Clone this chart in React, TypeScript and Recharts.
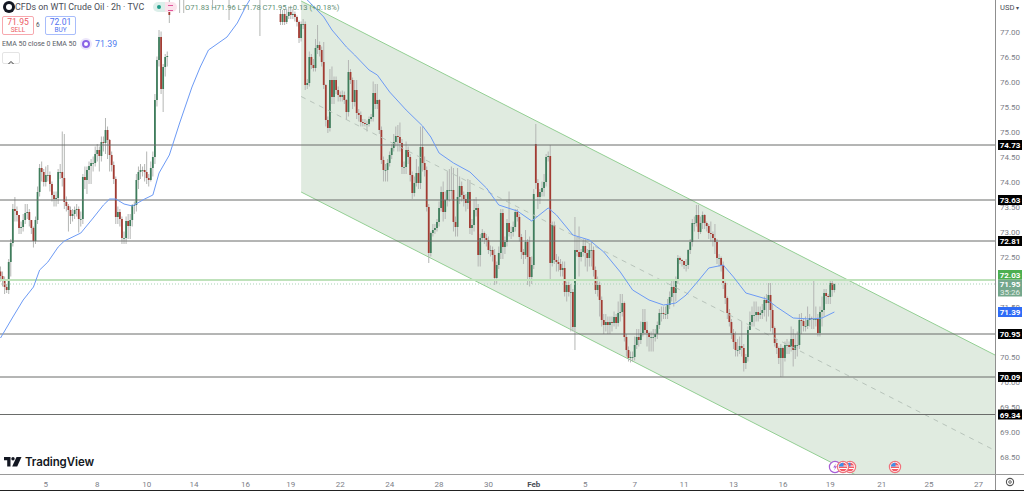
import { ComposedChart, Area, Bar, Line, XAxis, YAxis, ReferenceLine } from 'recharts'

// first run of 2h bars, slots 0-81
const leftOpen = [
  72.2, 72.11, 72.01, 71.89, 71.83, 72.39, 72.77, 73.45, 73.41, 73.33,
  73.07, 73.09, 73.23, 73.37, 73.39, 73.23, 73.07, 72.81, 73.23, 73.79,
  74.27, 74.19, 73.99, 74.13, 74.13, 73.95, 73.73, 73.65, 73.67, 74.19,
  74.19, 74.07, 73.59, 73.51, 73.43, 73.31, 73.35, 73.43, 73.45, 73.25,
  73.25, 74.09, 74.03, 74.23, 74.31, 74.37, 74.37, 74.55, 74.63, 74.51,
  74.79, 74.77, 75.03, 74.83, 74.53, 74.33, 74.05, 73.29, 73.39, 73.25,
  72.87, 72.87, 73.21, 73.11, 73.23, 73.53, 73.53, 74.03, 74.19, 74.23,
  74.23, 74.19, 74.07, 74.03, 74.27, 74.49, 75.63, 76.43, 76.89, 75.85, 76.29, 76.49,
]
const leftHigh = [
  72.3, 72.2, 72.1, 71.95, 72.45, 72.85, 73.55, 73.69, 73.5, 73.15,
  73.2, 73.35, 73.55, 73.55, 73.45, 73.2, 73.1, 73.3, 73.9, 74.35,
  74.4, 74.25, 74.3, 74.33, 74.2, 74.0, 73.8, 73.8, 74.25, 74.35,
  75.0, 74.95, 73.7, 73.55, 73.5, 73.45, 73.5, 73.55, 73.5, 73.4,
  74.15, 74.3, 74.3, 74.4, 74.45, 74.5, 74.7, 74.75, 74.7, 74.9,
  74.9, 75.27, 75.1, 74.85, 74.6, 74.4, 74.1, 73.5, 73.45, 73.3,
  73.0, 73.3, 73.35, 73.35, 73.55, 73.6, 74.15, 74.3, 74.35, 74.3,
  74.35, 74.6, 74.15, 74.4, 74.6, 75.75, 76.5, 77.03, 77.0, 76.35, 76.55, 76.6,
]
const leftLow = [
  72.0, 71.9, 71.75, 71.77, 71.75, 72.1, 72.7, 73.2, 73.2, 72.95,
  72.95, 73.0, 73.15, 73.25, 73.1, 72.95, 72.68, 72.75, 73.15, 73.7,
  74.0, 73.9, 73.9, 74.0, 73.8, 73.6, 73.5, 73.5, 73.55, 74.05,
  73.9, 73.45, 73.4, 73.0, 73.15, 73.2, 73.25, 73.3, 72.98, 73.1,
  73.15, 73.85, 73.75, 73.95, 73.95, 74.2, 74.3, 74.4, 74.2, 74.4,
  74.6, 74.55, 74.45, 74.2, 74.2, 73.95, 73.15, 73.15, 73.1, 72.75,
  72.75, 72.75, 72.85, 72.85, 73.1, 73.35, 73.4, 73.85, 74.05, 74.1,
  74.0, 73.95, 73.9, 74.0, 74.1, 74.35, 75.5, 76.3, 75.75, 75.39, 76.1, 76.3,
]
const leftClose = [
  72.11, 72.01, 71.89, 71.83, 72.39, 72.77, 73.45, 73.41, 73.33, 73.07,
  73.09, 73.23, 73.37, 73.39, 73.23, 73.07, 72.81, 73.23, 73.79, 74.27,
  74.19, 73.99, 74.13, 74.13, 73.95, 73.73, 73.65, 73.67, 74.19, 74.19,
  74.07, 73.59, 73.51, 73.43, 73.31, 73.35, 73.43, 73.45, 73.25, 73.25,
  74.09, 74.03, 74.23, 74.31, 74.37, 74.37, 74.55, 74.63, 74.51, 74.79,
  74.77, 75.03, 74.83, 74.53, 74.33, 74.05, 73.29, 73.39, 73.25, 72.87,
  72.87, 73.21, 73.11, 73.23, 73.53, 73.53, 74.03, 74.19, 74.23, 74.23,
  74.19, 74.07, 74.03, 74.27, 74.49, 75.63, 76.43, 76.89, 75.85, 76.29, 76.49, 76.51,
]

// bars mostly above the visible range, only their lower wicks show
const topSlots = [82, 87, 89, 103, 111, 126]
const topOpen = [77.53, 78.0, 78.0, 78.0, 78.0, 78.0]
const topHigh = [78.2, 78.2, 78.2, 78.2, 78.2, 78.2]
const topLow = [77.17, 77.37, 77.37, 77.53, 77.23, 76.91]
const topClose = [77.33, 77.8, 77.8, 77.8, 77.8, 77.8]

// second run, slots 136-405
const rightStart = 136
const rightOpen = [
  77.35, 77.19, 77.35, 77.19, 77.31, 77.39, 77.33, 77.35, 77.29, 77.19,
  76.87, 77.15, 77.15, 75.93, 75.97, 76.49, 76.33, 76.27, 76.67, 76.73,
  76.63, 76.39, 75.93, 75.23, 75.07, 76.03, 75.69, 76.03, 75.83, 75.73,
  75.69, 75.73, 75.63, 75.39, 76.19, 76.03, 75.59, 75.83, 75.37, 75.33,
  75.19, 75.17, 75.15, 75.15, 75.25, 75.29, 75.77, 75.55, 75.63, 75.03,
  74.43, 74.23, 74.23, 74.37, 74.53, 74.67, 74.79, 74.91, 74.89, 74.77,
  74.29, 74.29, 74.63, 74.49, 74.13, 73.77, 73.97, 74.17, 73.97, 74.69,
  74.37, 74.23, 73.49, 72.57, 72.97, 73.03, 73.07, 73.19, 73.47, 73.79,
  73.39, 73.63, 73.83, 73.83, 73.83, 73.19, 73.09, 73.69, 73.91, 73.73,
  73.65, 73.57, 73.79, 73.07, 73.13, 73.43, 73.47, 72.53, 72.87, 72.97,
  72.87, 72.83, 72.63, 72.63, 72.53, 72.07, 72.33, 72.57, 73.37, 72.69,
  72.79, 73.17, 72.99, 72.99, 73.09, 73.39, 73.29, 72.89, 72.59, 72.53,
  72.79, 72.49, 72.09, 72.33, 74.75, 73.97, 73.69, 73.79, 73.87, 73.99,
  74.49, 74.51, 72.37, 73.13, 72.43, 72.39, 72.35, 72.23, 72.27, 71.79,
  71.93, 71.79, 71.79, 71.09, 72.63, 72.59, 72.49, 72.59, 72.71, 72.57,
  72.47, 72.63, 72.63, 72.23, 71.83, 71.93, 71.63, 71.23, 71.13, 71.19,
  71.13, 71.19, 71.17, 71.29, 71.17, 71.37, 71.39, 71.57, 70.89, 70.63,
  70.47, 70.49, 70.49, 70.73, 70.89, 70.83, 70.97, 71.19, 71.03, 70.97,
  70.89, 70.89, 70.89, 70.95, 71.13, 71.37, 71.37, 71.35, 71.35, 71.53,
  71.69, 71.89, 71.77, 72.05, 72.47, 72.43, 72.41, 72.33, 72.33, 72.63,
  72.79, 73.17, 73.17, 73.33, 72.99, 73.17, 73.33, 73.17, 73.11, 72.97,
  72.95, 72.87, 72.79, 72.47, 72.47, 72.33, 71.97, 71.67, 71.37, 71.19,
  70.97, 70.79, 70.63, 70.63, 70.71, 70.67, 70.37, 70.49, 71.03, 71.19,
  71.33, 71.33, 71.39, 71.33, 71.37, 71.43, 71.63, 71.57, 71.73, 71.43,
  71.07, 70.77, 70.67, 70.47, 70.67, 70.47, 70.73, 70.73, 70.69, 70.85,
  70.63, 70.73, 70.73, 71.23, 71.21, 71.11, 71.11, 71.23, 71.27, 71.25,
  71.25, 71.25, 70.97, 71.39, 71.43, 71.77, 71.71, 71.69, 71.97, 71.83,
]
const rightHigh = [
  77.45, 77.43, 77.45, 77.45, 77.5, 77.45, 77.45, 77.4, 77.32, 77.22,
  77.2, 77.25, 77.2, 76.05, 76.6, 76.55, 76.45, 76.85, 77.13, 76.8,
  76.7, 76.79, 75.95, 75.3, 76.25, 76.3, 76.1, 76.1, 75.9, 75.8,
  75.82, 75.8, 75.65, 76.43, 76.25, 76.08, 76.03, 76.03, 75.45, 75.4,
  75.25, 75.25, 75.22, 75.3, 75.35, 76.0, 75.95, 75.95, 75.65, 75.1,
  74.5, 74.35, 74.45, 74.6, 74.75, 74.95, 75.1, 75.13, 75.18, 74.85,
  74.4, 74.8, 74.7, 74.55, 74.2, 74.1, 74.45, 74.3, 75.1, 75.1,
  74.5, 74.3, 73.55, 73.0, 73.15, 73.15, 73.25, 73.6, 73.9, 74.0,
  73.8, 74.2, 74.25, 74.3, 74.27, 73.3, 74.27, 74.1, 74.0, 73.8,
  73.75, 74.05, 74.03, 73.25, 73.65, 73.69, 73.55, 72.95, 73.05, 73.0,
  72.95, 72.9, 72.72, 72.7, 72.65, 72.4, 72.7, 73.45, 73.45, 72.9,
  73.25, 73.8, 73.1, 73.2, 73.45, 73.45, 73.35, 72.95, 72.65, 73.03,
  72.85, 72.9, 72.5, 73.85, 75.15, 74.05, 73.85, 74.0, 74.15, 74.55,
  74.6, 74.73, 73.2, 73.2, 72.55, 72.5, 72.45, 72.4, 72.4, 72.0,
  72.0, 71.95, 71.85, 73.29, 72.9, 73.1, 72.65, 72.85, 72.85, 72.65,
  72.75, 72.8, 72.7, 72.3, 72.1, 72.0, 71.7, 71.35, 71.35, 71.3,
  71.3, 71.3, 71.4, 71.35, 71.6, 71.75, 71.75, 71.6, 70.95, 70.7,
  70.6, 70.6, 70.9, 71.05, 71.05, 71.2, 71.45, 71.45, 71.2, 71.0,
  71.0, 71.05, 71.05, 71.2, 71.45, 71.5, 71.5, 71.5, 71.65, 71.8,
  72.05, 72.05, 72.1, 72.53, 72.5, 72.45, 72.4, 72.45, 72.65, 72.85,
  73.25, 73.3, 73.53, 73.53, 73.3, 73.4, 73.35, 73.2, 73.15, 73.2,
  73.0, 73.15, 72.85, 72.55, 72.5, 72.4, 72.0, 71.7, 71.45, 71.25,
  71.05, 71.0, 70.85, 70.9, 71.2, 70.75, 70.55, 71.1, 71.4, 71.5,
  71.6, 71.6, 71.5, 71.5, 71.55, 71.7, 71.75, 71.97, 71.97, 71.55,
  71.1, 70.85, 70.7, 70.75, 70.7, 70.8, 70.85, 70.8, 71.1, 71.05,
  70.95, 71.0, 71.35, 71.37, 71.25, 71.3, 71.5, 71.35, 71.3, 72.01,
  71.5, 71.35, 71.5, 71.7, 71.85, 71.85, 71.75, 72.03, 72.05, 71.96,
]
const rightLow = [
  77.13, 77.13, 77.13, 77.15, 77.25, 77.25, 77.25, 77.2, 77.1, 76.77,
  76.8, 77.05, 75.83, 75.85, 75.9, 76.25, 76.2, 76.2, 76.55, 76.5,
  76.3, 75.85, 75.1, 74.97, 75.0, 75.55, 75.55, 75.75, 75.6, 75.6,
  75.6, 75.55, 75.23, 75.3, 75.95, 75.45, 75.5, 75.25, 75.2, 75.1,
  75.1, 75.1, 75.0, 75.1, 75.2, 75.2, 75.45, 75.45, 74.95, 74.35,
  74.0, 74.0, 74.0, 74.3, 74.45, 74.6, 74.7, 74.6, 74.6, 74.15,
  74.15, 74.15, 74.35, 74.0, 73.65, 73.7, 73.9, 73.85, 73.85, 74.2,
  74.1, 73.4, 72.37, 72.5, 72.9, 72.95, 73.0, 73.1, 73.4, 73.2,
  73.25, 73.5, 73.6, 73.65, 73.0, 72.9, 72.9, 73.55, 73.6, 73.5,
  73.4, 73.45, 72.95, 72.93, 73.0, 73.3, 72.3, 72.3, 72.8, 72.75,
  72.7, 72.55, 72.5, 72.4, 71.93, 71.95, 72.25, 72.45, 72.45, 72.55,
  72.7, 72.9, 72.85, 72.9, 73.0, 73.2, 72.8, 72.45, 72.35, 72.45,
  71.93, 71.9, 71.95, 72.25, 73.85, 73.45, 73.55, 73.7, 73.7, 73.9,
  74.4, 72.03, 72.3, 72.35, 72.2, 72.2, 72.1, 72.1, 71.7, 71.6,
  71.7, 71.0, 71.0, 70.63, 72.5, 72.1, 72.4, 72.5, 72.3, 72.2,
  72.3, 72.3, 72.1, 71.75, 71.7, 71.3, 71.1, 70.95, 71.0, 70.95,
  70.95, 71.0, 71.1, 71.05, 71.1, 71.2, 71.3, 70.8, 70.5, 70.4,
  70.38, 70.4, 70.42, 70.65, 70.7, 70.75, 70.9, 70.95, 70.7, 70.6,
  70.6, 70.6, 70.8, 70.85, 71.05, 71.2, 71.25, 71.25, 71.25, 71.45,
  71.6, 71.5, 71.6, 71.95, 72.35, 72.3, 72.25, 72.2, 72.25, 72.55,
  72.7, 73.0, 73.1, 72.85, 72.95, 73.05, 73.05, 73.0, 72.85, 72.8,
  72.7, 72.55, 72.35, 72.3, 72.2, 71.85, 71.55, 71.25, 71.1, 70.85,
  70.65, 70.5, 70.5, 70.55, 70.5, 70.2, 70.25, 70.4, 71.05, 71.1,
  71.1, 71.2, 71.2, 71.25, 71.25, 71.3, 71.2, 71.3, 71.0, 70.95,
  70.7, 70.55, 70.35, 70.09, 70.1, 70.4, 70.55, 70.55, 70.6, 70.3,
  70.45, 70.5, 70.65, 70.95, 71.0, 71.0, 71.05, 71.1, 71.05, 71.05,
  71.1, 70.9, 70.9, 71.1, 71.3, 71.55, 71.55, 71.55, 71.7, 71.78,
]
const rightClose = [
  77.19, 77.35, 77.19, 77.31, 77.39, 77.33, 77.35, 77.29, 77.19, 76.87,
  77.15, 77.15, 75.93, 75.97, 76.49, 76.33, 76.27, 76.67, 76.73, 76.63,
  76.39, 75.93, 75.23, 75.07, 76.03, 75.69, 76.03, 75.83, 75.73, 75.69,
  75.73, 75.63, 75.39, 76.19, 76.03, 75.59, 75.83, 75.37, 75.33, 75.19,
  75.17, 75.15, 75.15, 75.25, 75.29, 75.77, 75.55, 75.63, 75.03, 74.43,
  74.23, 74.23, 74.37, 74.53, 74.67, 74.79, 74.91, 74.89, 74.77, 74.29,
  74.29, 74.63, 74.49, 74.13, 73.77, 73.97, 74.17, 73.97, 74.69, 74.37,
  74.23, 73.49, 72.57, 72.97, 73.03, 73.07, 73.19, 73.47, 73.79, 73.39,
  73.63, 73.83, 73.83, 73.83, 73.19, 73.09, 73.69, 73.91, 73.73, 73.65,
  73.57, 73.79, 73.07, 73.13, 73.43, 73.47, 72.53, 72.87, 72.97, 72.87,
  72.83, 72.63, 72.63, 72.53, 72.07, 72.33, 72.57, 73.37, 72.69, 72.79,
  73.17, 72.99, 72.99, 73.09, 73.39, 73.29, 72.89, 72.59, 72.53, 72.79,
  72.49, 72.09, 72.33, 73.75, 73.97, 73.69, 73.79, 73.87, 73.99, 74.49,
  74.51, 72.37, 73.13, 72.43, 72.39, 72.35, 72.23, 72.27, 71.79, 71.93,
  71.79, 71.79, 71.09, 72.63, 72.59, 72.49, 72.59, 72.71, 72.57, 72.47,
  72.63, 72.63, 72.23, 71.83, 71.93, 71.63, 71.23, 71.13, 71.19, 71.13,
  71.19, 71.17, 71.29, 71.17, 71.37, 71.39, 71.57, 70.89, 70.63, 70.47,
  70.49, 70.49, 70.73, 70.89, 70.83, 70.97, 71.19, 71.03, 70.97, 70.89,
  70.89, 70.89, 70.95, 71.13, 71.37, 71.37, 71.35, 71.35, 71.53, 71.69,
  71.89, 71.77, 72.05, 72.47, 72.43, 72.41, 72.33, 72.33, 72.63, 72.79,
  73.17, 73.17, 73.33, 72.99, 73.17, 73.33, 73.17, 73.11, 72.97, 72.95,
  72.87, 72.79, 72.47, 72.47, 72.33, 71.97, 71.67, 71.37, 71.19, 70.97,
  70.79, 70.63, 70.63, 70.71, 70.67, 70.37, 70.49, 71.03, 71.19, 71.33,
  71.33, 71.39, 71.33, 71.37, 71.43, 71.63, 71.57, 71.73, 71.43, 71.07,
  70.77, 70.67, 70.47, 70.67, 70.47, 70.73, 70.73, 70.69, 70.85, 70.63,
  70.73, 70.73, 71.23, 71.21, 71.11, 71.11, 71.23, 71.27, 71.25, 71.25,
  71.25, 70.97, 71.39, 71.43, 71.77, 71.71, 71.69, 71.97, 71.83, 71.95,
]

// EMA 50
const emaSlots = [
  0, 6, 11, 16, 19, 23, 28, 31, 39, 45, 50, 53, 56, 60, 64, 70, 74, 77, 82, 87, 93, 97, 101, 110,
  115, 119, 121, 128, 141, 149, 157, 161, 168, 172, 179, 183, 189, 197, 205, 209, 213, 220, 228,
  236, 242, 251, 258, 266, 270, 278, 286, 293, 301, 307, 315, 322, 328, 333, 338, 344, 351, 356,
  362, 372, 377, 385, 393, 399, 405,
]
const emaValues = [
  70.87, 71.29, 71.63, 71.89, 72.23, 72.39, 72.69, 72.81, 72.97, 73.27, 73.53, 73.65, 73.65, 73.55,
  73.51, 73.65, 73.73, 74.17, 74.53, 75.17, 75.89, 76.29, 76.63, 76.89, 77.17, 77.49, 77.63, 78.03,
  78.03, 77.63, 77.29, 77.03, 76.69, 76.53, 76.23, 76.13, 75.79, 75.43, 75.11, 74.89, 74.57, 74.37,
  74.19, 73.87, 73.53, 73.41, 73.21, 73.47, 73.33, 72.93, 72.83, 72.59, 72.19, 71.83, 71.63, 71.53,
  71.57, 71.73, 71.97, 72.27, 72.33, 72.09, 71.77, 71.65, 71.49, 71.27, 71.25, 71.27, 71.39,
]

// regression channel end points
const channelSlots = [146, 483]
const channelUpper = [77.61, 70.53]
const channelMid = [75.7, 68.62]
const channelLower = [73.79, 66.71]

const levels = [74.73, 73.63, 72.81, 70.95, 70.09, 69.34]
const priceTicks = [77, 76.5, 76, 75.5, 75, 74.5, 74, 73.5, 73, 72.5, 71.5, 70.5, 70, 69.5, 69, 68.5]
const dateSlots = [22, 47, 71, 94, 119, 141, 165, 189, 213, 237, 259, 284, 308, 332, 356, 380, 403, 428, 451, 475]
const dateLabels = ['5', '8', '10', '14', '16', '19', '22', '24', '28', '30', 'Feb', '5', '7', '11', '13', '16', '19', '21', '25', '27']

const UP = '#3f7d5c'
const DOWN = '#a23b32'
const WICK = '#b4b6b4'
const FONT = 'Roboto, "Liberation Sans", sans-serif'

interface Row {
  i: number
  open?: number
  high?: number
  low?: number
  close?: number
  ema?: number
  upper?: number
  mid?: number
  lower?: number
}

function buildRows(): Row[] {
  const bySlot = new Map<number, Row>()
  const slot = (i: number) => {
    if (!bySlot.has(i)) bySlot.set(i, { i })
    return bySlot.get(i) as Row
  }
  const addBar = (i: number, o: number, h: number, l: number, c: number) => {
    Object.assign(slot(i), { open: o, high: h, low: l, close: c })
  }
  leftOpen.forEach((o, k) => addBar(k, o, leftHigh[k], leftLow[k], leftClose[k]))
  topSlots.forEach((s, k) => addBar(s, topOpen[k], topHigh[k], topLow[k], topClose[k]))
  rightOpen.forEach((o, k) => addBar(rightStart + k, o, rightHigh[k], rightLow[k], rightClose[k]))
  emaSlots.forEach((s, k) => {
    slot(s).ema = emaValues[k]
  })
  channelSlots.forEach((s, k) => {
    Object.assign(slot(s), { upper: channelUpper[k], mid: channelMid[k], lower: channelLower[k] })
  })
  return [...bySlot.values()].sort((a, b) => a.i - b.i)
}

const rows = buildRows()

function Candle(props: any) {
  const { x, y, width, height, payload } = props
  if (!payload || payload.open == null || !height) return null
  const { open, high, low, close } = payload
  const perUnit = height / (high - low)
  const yOf = (p: number) => y + (high - p) * perUnit
  const cx = x + width / 2
  const top = yOf(Math.max(open, close))
  const bottom = yOf(Math.min(open, close))
  return (
    <g>
      <line x1={cx} x2={cx} y1={y} y2={y + height} stroke={WICK} strokeWidth={1} />
      <rect
        x={cx - 0.9}
        y={top}
        width={1.8}
        height={Math.max(bottom - top, 0.8)}
        fill={close >= open ? UP : DOWN}
      />
    </g>
  )
}

function PriceTick({ x, y, payload }: any) {
  const v = payload.value as number
  const textProps = { x: x + 13, textAnchor: 'middle' as const, fontFamily: FONT, fontSize: 8 }
  if (levels.includes(v)) {
    return (
      <g>
        <rect x={x + 1} y={y - 5} width={24} height={10} fill="#000" />
        <text {...textProps} y={y + 3} fill="#fff" fontWeight={700}>{v.toFixed(2)}</text>
      </g>
    )
  }
  // the 72.03 tag sits just above the current price tag, as it does on the platform
  if (v === 72.03) {
    return (
      <g>
        <rect x={x + 1} y={y - 10} width={24} height={9.5} fill="#4caf50" />
        <text {...textProps} y={y - 2.5} fill="#fff" fontWeight={700}>72.03</text>
      </g>
    )
  }
  if (v === 71.95) {
    return (
      <g>
        <rect x={x + 1} y={y - 4.5} width={24} height={17} fill="#74a78c" />
        <text {...textProps} y={y + 3} fill="#fff" fontWeight={700}>71.95</text>
        <text {...textProps} y={y + 11} fill="#e6efe9">35:26</text>
      </g>
    )
  }
  if (v === 71.39) {
    return (
      <g>
        <rect x={x + 1} y={y - 5} width={24} height={10} fill="#2f6cf6" />
        <text {...textProps} y={y + 3} fill="#fff" fontWeight={700}>71.39</text>
      </g>
    )
  }
  return <text {...textProps} y={y + 3} fill="#7d8088">{v.toFixed(2)}</text>
}

function DateTick({ x, y, payload }: any) {
  const label = dateLabels[dateSlots.indexOf(payload.value)]
  return (
    <text
      x={x}
      y={y + 11}
      textAnchor="middle"
      fontFamily={FONT}
      fontSize={8}
      fontWeight={label === 'Feb' ? 700 : 400}
      fill={label === 'Feb' ? '#4a4d57' : '#7d8088'}
    >
      {label}
    </text>
  )
}

const abs = (left: number, top: number, rest: React.CSSProperties = {}): React.CSSProperties => ({
  position: 'absolute',
  left,
  top,
  fontFamily: FONT,
  whiteSpace: 'nowrap',
  ...rest,
})

function Flag({ x }: { x: number }) {
  return (
    <g transform={`translate(${x},467)`}>
      <circle r={5.6} fill="#fff" stroke="#f0727c" strokeWidth={1.2} />
      <clipPath id={`flag${x}`}><circle r={4.2} /></clipPath>
      <g clipPath={`url(#flag${x})`}>
        <rect x={-5} y={-5} width={10} height={10} fill="#f25b66" />
        <rect x={-5} y={-1.5} width={10} height={1} fill="#fff" />
        <rect x={-5} y={1} width={10} height={1} fill="#fff" />
        <rect x={-5} y={-5} width={5.5} height={4.5} fill="#3f8fe8" />
      </g>
    </g>
  )
}

function Overlay() {
  return (
    <>
      {/* frame */}
      <div style={abs(995, 0, { width: 1, height: 490, background: '#8f8f8f' })} />
      <div style={abs(0, 474, { width: 1024, height: 1, background: '#9a9a9a' })} />
      <div style={abs(0, 490, { width: 1024, height: 1, background: '#222' })} />

      {/* title row */}
      <div style={abs(3, 1, { width: 12, height: 12, borderRadius: 6, background: '#131722' })} />
      <div style={abs(6, 4, { width: 6, height: 6, borderRadius: 3, background: '#fff' })} />
      <div style={abs(15, 1, { fontSize: 8.9, color: '#4a4d57', lineHeight: '13px' })}>
        CFDs on WTI Crude Oil · 2h · TVC
      </div>
      <div style={abs(153, 2, { width: 24, height: 10, borderRadius: 5, background: 'linear-gradient(90deg,#dcefea 50%,#fbe3ec 50%)' })} />
      <div style={abs(157, 5, { width: 4, height: 4, borderRadius: 2, background: '#1f9c8a' })} />
      <div style={abs(168, 5, { width: 5, height: 4, borderTop: '1px solid #e0559a', borderBottom: '1px solid #e0559a' })} />
      <div style={abs(185, 1, { fontSize: 7.6, color: '#5f8f75', lineHeight: '13px' })}>
        O71.83 H71.96 L71.78 C71.95 +0.13 (+0.18%)
      </div>

      {/* sell / buy */}
      <div style={abs(2, 16, { width: 30, height: 17, border: '1px solid #f7a8ae', borderRadius: 2, textAlign: 'center', color: '#ec5b64', background: '#fff' })}>
        <div style={{ fontSize: 8.6, lineHeight: '10px' }}>71.95</div>
        <div style={{ fontSize: 6.5, lineHeight: '7px' }}>SELL</div>
      </div>
      <div style={abs(36, 21, { fontSize: 6.5, color: '#4a4d57' })}>6</div>
      <div style={abs(45, 16, { width: 29, height: 17, border: '1px solid #a8bdfb', borderRadius: 2, textAlign: 'center', color: '#5272f0', background: '#fff' })}>
        <div style={{ fontSize: 8.6, lineHeight: '10px' }}>72.01</div>
        <div style={{ fontSize: 6.5, lineHeight: '7px' }}>BUY</div>
      </div>

      {/* indicator row */}
      <div style={abs(2, 38, { fontSize: 7, color: '#5a5d66', lineHeight: '12px' })}>EMA 50 close 0 EMA 50</div>
      <div style={abs(82, 40, { width: 4, height: 4, borderRadius: 5, border: '2px solid #8a63e6', boxShadow: '0 0 0 2px #ece6fb' })} />
      <div style={abs(95, 38, { fontSize: 8.8, color: '#4f7df0', lineHeight: '12px' })}>71.39</div>
      <div style={abs(2, 52, { width: 16, height: 10, border: '1px solid #e4e4e4', borderRadius: 2, background: '#fff' })}>
        <svg width={16} height={10}><path d="M5.5 6 L8 3.5 L10.5 6" fill="none" stroke="#333" strokeWidth={1} /></svg>
      </div>

      {/* currency + settings */}
      <div style={abs(998, 2, { width: 24, height: 11, background: '#fff', borderRadius: 2, fontSize: 7.6, lineHeight: '11px', color: '#4a4d57', paddingLeft: 2, boxSizing: 'border-box' })}>
        USD <span style={{ fontSize: 6 }}>▾</span>
      </div>
      <svg style={abs(1003, 475)} width={14} height={14}>
        <circle cx={7} cy={7} r={3.6} fill="none" stroke="#555" strokeWidth={1.1} />
        <circle cx={7} cy={7} r={1.3} fill="none" stroke="#555" strokeWidth={0.9} />
      </svg>

      {/* logo */}
      <svg style={abs(4, 457)} width={18} height={10}>
        <path d="M0 0 H6.5 V9.5 H3.2 V3.2 H0 Z" fill="#131722" />
        <circle cx={9} cy={1.8} r={1.7} fill="#131722" />
        <path d="M12.5 0 H17.5 L13.2 9.5 H8.2 Z" fill="#131722" />
      </svg>
      <div style={abs(25, 454, { fontFamily: 'Inter, Roboto, sans-serif', fontSize: 11.5, fontWeight: 600, color: '#131722', lineHeight: '16px', letterSpacing: '-0.1px' })}>
        TradingView
      </div>

      {/* economic events */}
      <svg style={abs(0, 0)} width={1024} height={491} pointerEvents="none">
        <g transform="translate(835,467)">
          <circle r={5.6} fill="#fff" stroke="#a75fd6" strokeWidth={1.2} />
          <path d="M1 -3.5 L-1.8 0.5 H0.2 L-1 3.5 L2 -0.8 H0 Z" fill="#a75fd6" />
        </g>
        <Flag x={850} />
        <Flag x={843} />
        <Flag x={895} />
      </svg>
    </>
  )
}

export default function App() {
  return (
    <div style={{ position: 'absolute', left: 0, top: 0, width: 1024, height: 491, background: '#fff', overflow: 'hidden' }}>
      <ComposedChart width={1024} height={491} data={rows} margin={{ top: 0, right: 0, bottom: 0, left: 0 }}>
        <XAxis
          dataKey="i"
          type="number"
          scale="linear"
          domain={[-0.25, 483]}
          allowDataOverflow
          ticks={dateSlots}
          interval={0}
          height={17}
          axisLine={false}
          tickLine={false}
          tickSize={0}
          tick={<DateTick />}
        />
        <YAxis
          orientation="right"
          type="number"
          width={29}
          domain={[68.15, 77.63]}
          allowDataOverflow
          ticks={[...priceTicks, ...levels, 71.39, 71.95, 72.03]}
          interval={0}
          axisLine={false}
          tickLine={false}
          tickSize={0}
          tick={<PriceTick />}
        />
        <Area
          dataKey={(r: Row) => (r.upper == null ? null : [r.lower, r.upper])}
          connectNulls
          stroke="#93cf93"
          strokeWidth={1}
          fill="#e0ebe0"
          fillOpacity={1}
          dot={false}
          activeDot={false}
          isAnimationActive={false}
        />
        <Line
          dataKey="mid"
          connectNulls
          stroke="#b8c4bb"
          strokeWidth={1}
          strokeDasharray="5 5"
          dot={false}
          activeDot={false}
          isAnimationActive={false}
        />
        <ReferenceLine y={72.03} stroke="#bfe2bb" strokeWidth={2} />
        <ReferenceLine y={71.95} stroke="#a9d3b6" strokeDasharray="1 2" />
        {levels.map((l) => (
          <ReferenceLine key={l} y={l} stroke="#6a6c6a" strokeWidth={1} />
        ))}
        <Bar
          dataKey={(r: Row) => (r.open == null ? null : [r.low, r.high])}
          barSize={2}
          shape={<Candle />}
          isAnimationActive={false}
        />
        <Line
          dataKey="ema"
          connectNulls
          stroke="#6c9af5"
          strokeWidth={1}
          dot={false}
          activeDot={false}
          isAnimationActive={false}
        />
      </ComposedChart>
      <Overlay />
    </div>
  )
}
